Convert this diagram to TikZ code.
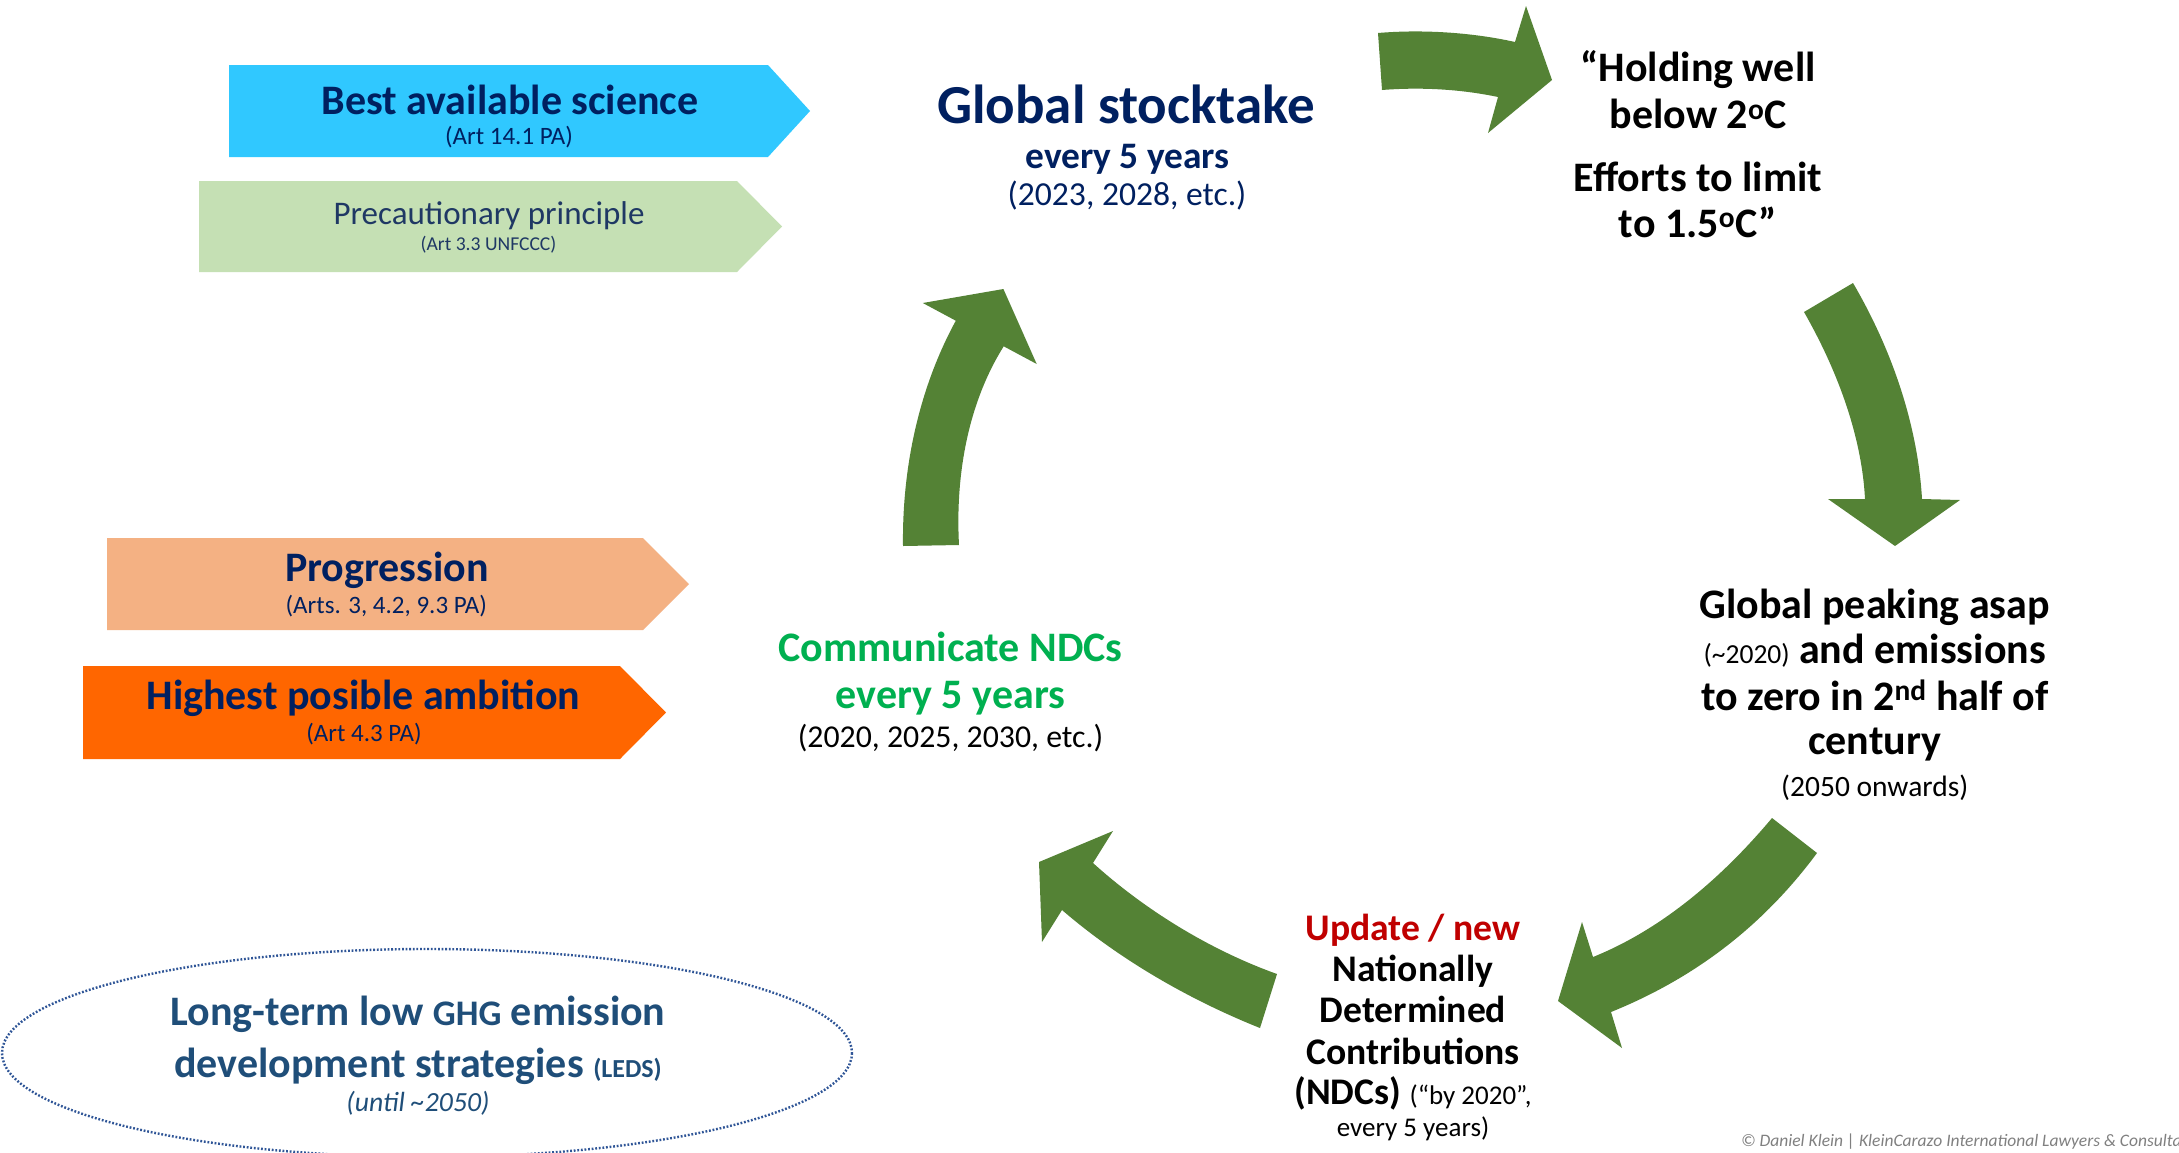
\documentclass[tikz,border=0pt]{standalone}
\usepackage{fontspec}
\setmainfont{Carlito}
\definecolor{navy}{HTML}{002060}
\definecolor{navytwo}{HTML}{1F3864}
\definecolor{cyanbox}{HTML}{30C8FF}
\definecolor{greenbox}{HTML}{C5E0B4}
\definecolor{peachbox}{HTML}{F4B183}
\definecolor{orangebox}{HTML}{FF6600}
\definecolor{arrowgreen}{HTML}{548235}
\definecolor{brightgreen}{HTML}{00B050}
\definecolor{darkred}{HTML}{C00000}
\definecolor{ledsblue}{HTML}{1F4E79}
\definecolor{ledsline}{HTML}{2F5597}
\definecolor{copygrey}{HTML}{808080}
\newcommand\myfs[1]{\fontsize{#1}{#1}\selectfont}
\begin{document}
\begin{tikzpicture}[x=1pt,y=-1pt,
  txt/.style={inner sep=0pt, outer sep=0pt, anchor=base},
  bigarrow/.style={fill=arrowgreen, draw=none},
  hdr/.style={txt, text=navy, font={\myfs{42}\bfseries}},
  sub/.style={txt, text=navy, font={\myfs{25}}},
  blk/.style={txt, text=black, font={\myfs{42}\bfseries}},
  ndc/.style={txt, text=black, font={\myfs{37.6}\bfseries}}]
\fill[white] (0,0) rectangle (2179,1152);
\useasboundingbox (0,0) rectangle (2179,1152);

% left pentagon boxes
\fill[cyanbox] (229,65) -- (768,65) -- (810,111) -- (768,157) -- (229,157) -- cycle;
\fill[greenbox] (199,181) -- (737,181) -- (782,226.5) -- (737,272) -- (199,272) -- cycle;
\fill[peachbox] (107,538) -- (643,538) -- (689,584) -- (643,630) -- (107,630) -- cycle;
\fill[orangebox] (83,666) -- (620,666) -- (666,712.5) -- (620,759) -- (83,759) -- cycle;

\node[hdr] (best) at (510,114) {Best available science};
\node[sub] (bestsub) at (509,144.5) {(Art 14.1 PA)};
\node[txt, text=navytwo, font={\myfs{33}}] (prec) at (489,224) {Precautionary principle};
\node[txt, text=navytwo, font={\myfs{19.6}}] (precsub) at (488.5,250) {(Art 3.3 UNFCCC)};
\node[hdr] (prog) at (387,581) {Progression};
\node[sub] (progsub) at (386.3,613) {(Arts. 3, 4.2, 9.3 PA)};
\node[hdr] (high) at (363.5,709) {Highest posible ambition};
\node[sub] (highsub) at (364,741) {(Art 4.3 PA)};

% green curved arrows
\path[bigarrow] (1378,33) .. controls (1425,29) and (1475,33) .. (1515,42) -- (1526,6) -- (1552,80) -- (1488,133) -- (1498,97) .. controls (1460,89) and (1420,87) .. (1382,90) -- cycle;
\path[bigarrow] (1853,283) .. controls (1895,355) and (1918,430) .. (1922,499) -- (1960,500) -- (1895,546) -- (1828,499) -- (1865,499) .. controls (1862,440) and (1840,375) .. (1804,312) -- cycle;
\path[bigarrow] (1817,853) .. controls (1760,930) and (1690,980) .. (1611,1012) -- (1622,1048) -- (1558,1001) -- (1582,922) -- (1593,957) .. controls (1660,930) and (1720,880) .. (1772,818) -- cycle;
\path[bigarrow] (1277,974) .. controls (1210,950) and (1145,910) .. (1093,863) -- (1113,831) -- (1039,862) -- (1042,942) -- (1062,910) .. controls (1120,960) and (1190,1000) .. (1260,1028) -- cycle;
\path[bigarrow] (959,545) .. controls (955,470) and (970,400) .. (1003.7,346.3) -- (1036.7,364) -- (1003.4,289) -- (922.8,303) -- (955.8,320.7) .. controls (918,390) and (902,470) .. (903,546) -- cycle;

% Global stocktake
\node[txt, text=navy, font={\myfs{55}\bfseries}] (gs1) at (1126,123.7) {Global stocktake};
\node[txt, text=navy, font={\myfs{37.4}\bfseries}] (gs2) at (1127.5,168) {every 5 years};
\node[txt, text=navy, font={\myfs{33.6}}] (gs3) at (1127,205.7) {(2023, 2028, etc.)};

% Holding well below
\node[blk] (h1) at (1698,81.5) {“Holding well};
\node[blk] (h2) at (1698,128.8) {below 2\textsuperscript{o}C};
\node[blk] (h3) at (1698,191.3) {Efforts to limit};
\node[blk] (h4) at (1698,237) {to 1.5\textsuperscript{o}C”};

% Global peaking
\node[blk] (p1) at (1874.7,618.4) {Global peaking asap};
\node[blk] (p2) at (1874.7,663) {{\myfs{27.5}\mdseries (\textasciitilde 2020)} and emissions};
\node[blk] (p3) at (1874.7,710) {to zero in 2\textsuperscript{nd} half of};
\node[blk] (p4) at (1874.7,754.6) {century};
\node[txt, text=black, font={\myfs{29.5}}] (p5) at (1874.7,796.3) {(2050 onwards)};

% Communicate NDCs
\node[txt, text=brightgreen, font={\myfs{42}\bfseries}] (c1) at (950.5,661.5) {Communicate NDCs};
\node[txt, text=brightgreen, font={\myfs{42}\bfseries}] (c2) at (950.5,708.7) {every 5 years};
\node[txt, text=black, font={\myfs{31.8}}] (c3) at (950.5,747.7) {(2020, 2025, 2030, etc.)};

% NDC update
\node[txt, text=darkred, font={\myfs{37.6}\bfseries}] (n1) at (1413,940.8) {Update / new};
\node[ndc] (n2) at (1413,981) {Nationally};
\node[ndc] (n3) at (1413,1022.8) {Determined};
\node[ndc] (n4) at (1413,1064.5) {Contributions};
\node[ndc] (n5) at (1413,1104.8) {(NDCs) {\myfs{27}\mdseries (“by 2020”,}};
\node[txt, text=black, font={\myfs{27}}] (n6) at (1413,1136.8) {every 5 years)};

% LEDS ellipse
\draw[ledsline, line width=2.4pt, dash pattern=on 1.8pt off 1.8pt] (427,1053) ellipse [x radius=425, y radius=104];
\node[txt, text=ledsblue, font={\myfs{42}\bfseries}] (l1) at (418,1025.6) {Long-term low {\myfs{36}GHG} emission};
\node[txt, text=ledsblue, font={\myfs{42}\bfseries}] (l2) at (418,1077) {development strategies {\myfs{26}(LEDS)}};
\node[txt, text=ledsblue, font={\myfs{27.7}\itshape}] (l3) at (418,1111.8) {(until \textasciitilde 2050)};

% copyright
\node[txt, anchor=base west, text=copygrey, font={\myfs{17.5}\itshape}] (copy) at (1741,1146.5) {© Daniel Klein | KleinCarazo International Lawyers \& Consultants};
\end{tikzpicture}
\end{document}
